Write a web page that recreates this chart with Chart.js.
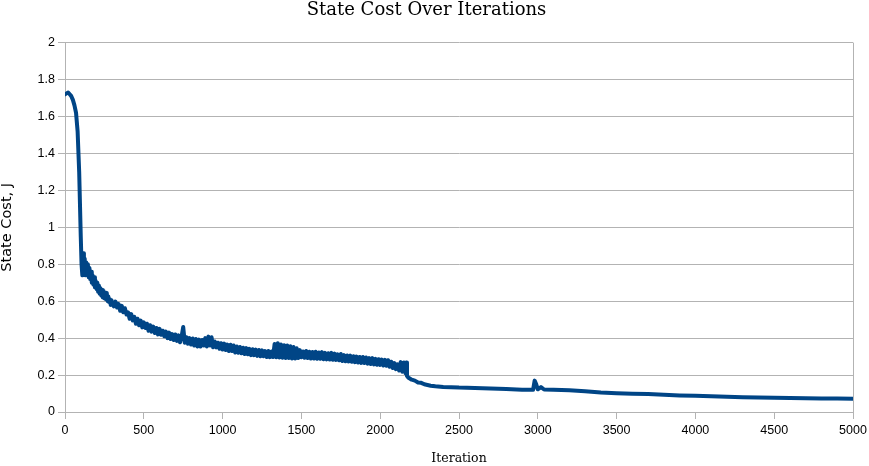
<!DOCTYPE html>
<html>
<head>
<meta charset="utf-8">
<script src="https://cdn.jsdelivr.net/npm/chart.js@4/dist/chart.umd.min.js"></script>
<style>
  html, body { margin: 0; padding: 0; background: #ffffff; }
  #wrap { width: 869px; height: 466px; }
</style>
</head>
<body>
<div id="wrap"><canvas id="c" width="869" height="466"></canvas></div>
<script>
const chartTitle = 'State Cost Over Iterations';
const xTitle = 'Iteration';
const yTitle = 'State Cost, J';

// Sampled iteration numbers and the State Cost read at each of them
const iterations = [
  0, 10, 20, 30, 40, 50, 60, 70, 80, 90, 100,
  105, 110, 115, 120, 125, 130, 135, 140, 145, 150, 155, 160, 165, 170, 175, 180, 185, 190, 195, 200,
  205, 210, 215, 220, 225, 230, 235, 240, 245, 250, 255, 260, 265, 270, 275, 280, 285, 290, 295, 300,
  310, 320, 330, 340, 350, 360, 370, 380, 390, 400,
  410, 420, 430, 440, 450, 460, 470, 480, 490, 500,
  510, 520, 530, 540, 550, 560, 570, 580, 590, 600,
  610, 620, 630, 640, 650, 660, 670, 680, 690, 700,
  710, 720, 730, 740, 750, 760, 770, 780, 790, 800,
  810, 820, 830, 840, 850, 860, 870, 880, 890, 900,
  910, 920, 930, 940, 950, 960, 970, 980, 990, 1000,
  1010, 1020, 1030, 1040, 1050, 1060, 1070, 1080, 1090, 1100,
  1110, 1120, 1130, 1140, 1150, 1160, 1170, 1180, 1190, 1200,
  1210, 1220, 1230, 1240, 1250, 1260, 1270, 1280, 1290, 1300,
  1310, 1320, 1330, 1340, 1350, 1360, 1370, 1380, 1390, 1400,
  1410, 1420, 1430, 1440, 1450, 1460, 1470, 1480, 1490, 1500,
  1510, 1520, 1530, 1540, 1550, 1560, 1570, 1580, 1590, 1600,
  1610, 1620, 1630, 1640, 1650, 1660, 1670, 1680, 1690, 1700,
  1710, 1720, 1730, 1740, 1750, 1760, 1770, 1780, 1790, 1800,
  1810, 1820, 1830, 1840, 1850, 1860, 1870, 1880, 1890, 1900,
  1910, 1920, 1930, 1940, 1950, 1960, 1970, 1980, 1990, 2000,
  2010, 2020, 2030, 2040, 2050, 2060, 2070, 2080, 2090, 2100,
  2110, 2120, 2130, 2140, 2150, 2160, 2165, 2170,
  2180, 2200, 2220, 2240, 2260, 2280, 2300, 2320, 2350, 2400,
  2450, 2500, 2600, 2700, 2800, 2900, 2970, 2980, 2990, 3000,
  3020, 3040, 3100, 3200, 3300, 3400, 3500, 3600, 3700, 3800,
  3900, 4000, 4100, 4200, 4300, 4400, 4500, 4600, 4700, 4800,
  4900, 5000
];

const cost = [
  1.72, 1.725, 1.73, 1.72, 1.71, 1.69, 1.66, 1.62, 1.52, 1.30, 0.95,
  0.80, 0.74, 0.86, 0.76, 0.83, 0.74, 0.81, 0.75, 0.80, 0.73, 0.78, 0.72, 0.76, 0.70, 0.74, 0.69, 0.73, 0.675, 0.71, 0.665,
  0.70, 0.65, 0.685, 0.64, 0.67, 0.63, 0.66, 0.62, 0.655, 0.615, 0.64, 0.61, 0.645, 0.60, 0.625, 0.595, 0.61, 0.58, 0.605, 0.585,
  0.572, 0.598, 0.566, 0.585, 0.548, 0.575, 0.540, 0.562, 0.528, 0.540,
  0.505, 0.530, 0.496, 0.515, 0.478, 0.505, 0.470, 0.495, 0.458, 0.485,
  0.455, 0.478, 0.440, 0.470, 0.435, 0.462, 0.428, 0.455, 0.420, 0.450,
  0.418, 0.440, 0.410, 0.435, 0.400, 0.430, 0.395, 0.422, 0.390, 0.420,
  0.385, 0.415, 0.378, 0.410, 0.460, 0.375, 0.405, 0.370, 0.400, 0.365,
  0.398, 0.360, 0.395, 0.355, 0.392, 0.355, 0.390, 0.360, 0.400, 0.355,
  0.408, 0.360, 0.405, 0.350, 0.382, 0.350, 0.375, 0.342, 0.372, 0.338,
  0.370, 0.336, 0.365, 0.330, 0.364, 0.330, 0.360, 0.322, 0.355, 0.321,
  0.352, 0.318, 0.348, 0.314, 0.346, 0.313, 0.342, 0.308, 0.340, 0.308,
  0.338, 0.304, 0.336, 0.302, 0.334, 0.302, 0.330, 0.298, 0.330, 0.297,
  0.328, 0.298, 0.368, 0.296, 0.372, 0.295, 0.365, 0.294, 0.362, 0.292,
  0.360, 0.292, 0.356, 0.290, 0.352, 0.290, 0.345, 0.292, 0.335, 0.296,
  0.328, 0.294, 0.330, 0.292, 0.326, 0.290, 0.325, 0.290, 0.326, 0.288,
  0.322, 0.288, 0.324, 0.286, 0.320, 0.285, 0.318, 0.284, 0.320, 0.283,
  0.316, 0.282, 0.312, 0.280, 0.314, 0.276, 0.308, 0.275, 0.306, 0.274,
  0.305, 0.272, 0.302, 0.270, 0.300, 0.268, 0.298, 0.266, 0.298, 0.265,
  0.295, 0.262, 0.292, 0.260, 0.292, 0.258, 0.288, 0.256, 0.286, 0.255,
  0.284, 0.252, 0.282, 0.250, 0.280, 0.245, 0.272, 0.238, 0.265, 0.232,
  0.258, 0.225, 0.270, 0.218, 0.268, 0.210, 0.268, 0.195,
  0.185, 0.175, 0.170, 0.160, 0.158, 0.150, 0.146, 0.142, 0.139, 0.135,
  0.134, 0.132, 0.130, 0.127, 0.125, 0.121, 0.120, 0.170, 0.150, 0.123,
  0.135, 0.122, 0.121, 0.118, 0.112, 0.106, 0.102, 0.099, 0.097, 0.093,
  0.090, 0.088, 0.085, 0.082, 0.080, 0.078, 0.077, 0.076, 0.074, 0.073,
  0.073, 0.072
];

const xMin = 0, xMax = 5000, xStep = 500;
const yMin = 0, yMax = 2, yStep = 0.2;

const points = iterations.map((it, i) => ({ x: it, y: cost[i] }));

const gridGrey = '#b3b3b3';

new Chart(document.getElementById('c'), {
  type: 'line',
  data: {
    datasets: [{
      label: yTitle,
      data: points,
      borderColor: '#004586',
      backgroundColor: '#004586',
      borderWidth: 4,
      pointRadius: 0,
      tension: 0,
      borderJoinStyle: 'round',
      borderCapStyle: 'round',
      fill: false
    }]
  },
  options: {
    responsive: false,
    animation: false,
    devicePixelRatio: 1,
    layout: { padding: { left: 0, right: 16, top: 0, bottom: 0 } },
    plugins: {
      legend: { display: false },
      tooltip: { enabled: false },
      title: {
        display: true,
        text: chartTitle,
        color: '#000000',
        font: { family: 'DejaVu Serif', size: 18, weight: 'normal' },
        padding: { top: 0, bottom: 21 }
      }
    },
    scales: {
      x: {
        type: 'linear',
        min: xMin, max: xMax,
        afterFit: s => { s.height = 54; s.paddingLeft = 0; s.paddingRight = 0; },
        ticks: {
          stepSize: xStep,
          color: '#000000',
          font: { family: 'Liberation Sans', size: 12.5 },
          padding: 4,
          maxRotation: 0,
          callback: v => String(v)
        },
        grid: {
          color: ctx => (ctx.tick && ctx.tick.value === xMax) ? gridGrey : 'rgba(0,0,0,0)',
          tickColor: gridGrey,
          tickLength: 7,
          lineWidth: 1,
          drawOnChartArea: true
        },
        border: { display: true, color: gridGrey },
        title: {
          display: true,
          text: xTitle,
          color: '#000000',
          font: { family: 'DejaVu Serif', size: 12.5 },
          padding: { top: 0, bottom: 0 }
        }
      },
      y: {
        type: 'linear',
        min: yMin, max: yMax,
        afterFit: s => { s.width = 65; },
        ticks: {
          stepSize: yStep,
          color: '#000000',
          font: { family: 'Liberation Sans', size: 12.5 },
          padding: 3,
          callback: v => String(+v.toFixed(1))
        },
        grid: {
          color: gridGrey,
          tickColor: gridGrey,
          tickLength: 7,
          lineWidth: 1
        },
        border: { display: true, color: gridGrey },
        title: {
          display: true,
          text: yTitle,
          color: '#000000',
          font: { family: 'DejaVu Sans', size: 14.5, lineHeight: 1 },
          padding: { top: 0, bottom: 0 }
        }
      }
    }
  }
});
</script>
</body>
</html>
